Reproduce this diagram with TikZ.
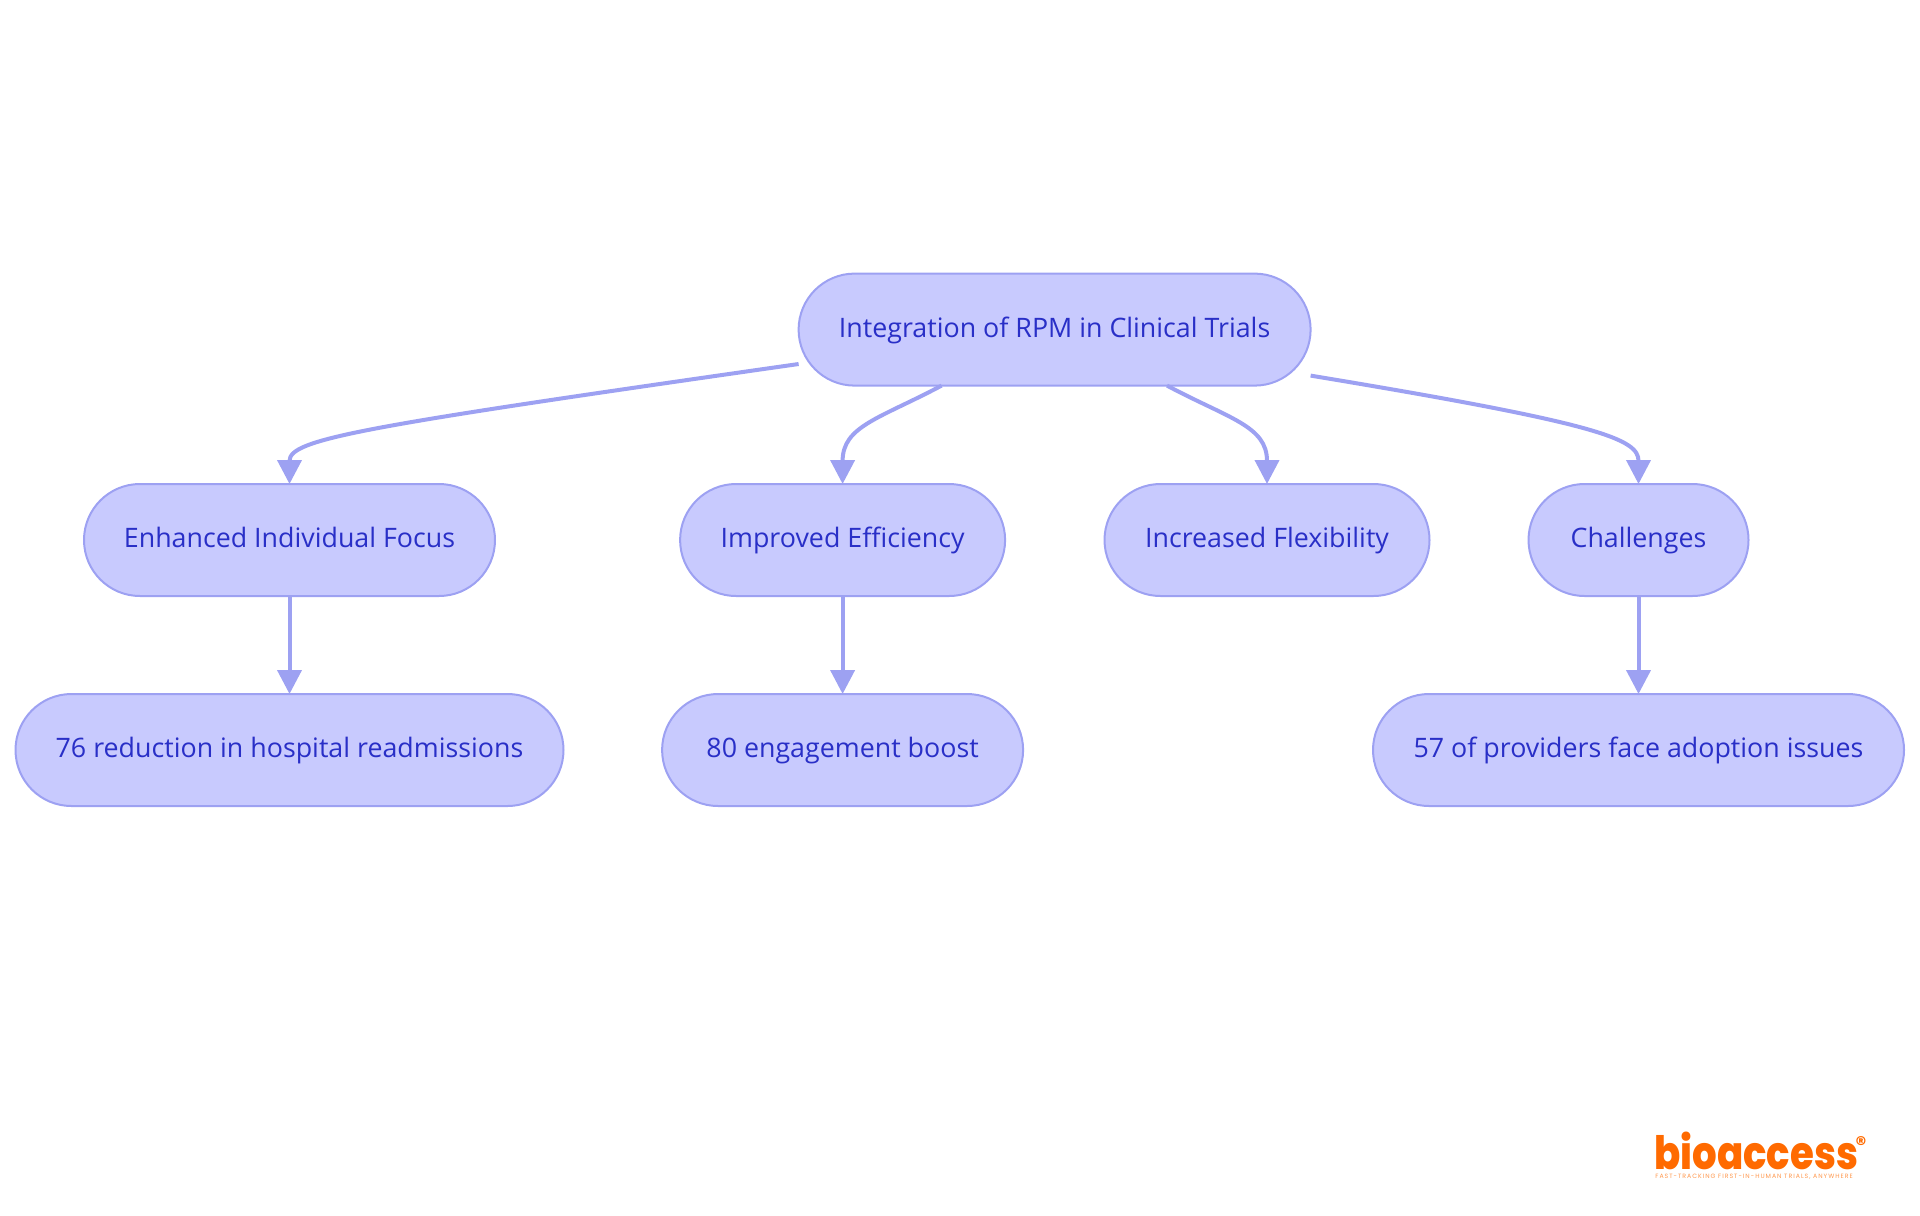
\documentclass[tikz,border=0pt]{standalone}
\usepackage{fontspec}
\setmainfont{Open Sans}
\newfontfamily\logofont{Poppins ExtraBold}
\newfontfamily\tagfont{Poppins}
\usetikzlibrary{arrows.meta}
\definecolor{pillfill}{RGB}{200,202,254}
\definecolor{pillline}{RGB}{157,161,242}
\definecolor{pilltext}{RGB}{41,47,199}
\definecolor{logoorange}{RGB}{255,106,0}
\tikzset{
	pill/.style={draw=pillline, fill=pillfill, line width=1pt, rounded corners=28pt, minimum height=56pt, inner sep=0pt, outer sep=0pt, text=pilltext, text height=8.8pt, text depth=1.2pt, font=\fontsize{13.4}{16}\selectfont},
	link/.style={draw=pillline, line width=2pt, -{Triangle[length=12pt,width=12pt]}}
}
\begin{document}
\begin{tikzpicture}[x=0.5pt, y=-0.5pt, line join=round]
	\useasboundingbox (0,0) rectangle (1920,1215);
	\foreach \n/\x/\y/\w/\t in {
		root/1054.6/329.6/256pt/Integration of RPM in Clinical Trials,
		focus/289.5/540/205.5pt/Enhanced Individual Focus,
		effic/842.6/540/162.5pt/Improved Efficiency,
		flex/1267/540/162.5pt/Increased Flexibility,
		chall/1638.5/540/110pt/Challenges,
		readm/289.5/750/274pt/76 reduction in hospital readmissions,
		boost/842.6/750/180.5pt/80 engagement boost,
		issue/1638.5/750/265.5pt/57 of providers face adoption issues}
		\node[pill, minimum width=\w] (\n) at (\x,\y) {\t};
	\path
	([yshift=-17.2pt]root.west) coordinate (rootA)
	([xshift=-56.5pt]root.south) coordinate (rootB)
	([xshift=56.2pt]root.south) coordinate (rootC)
	([yshift=-23pt]root.east) coordinate (rootD)
	;
	\draw[link] (rootA) .. controls +(-440,63) and +(0,-45) .. (focus.north);
	\draw[link] (rootB) .. controls +(-62,33) and +(0,-58) .. (effic.north);
	\draw[link] (rootC) .. controls +(62,33) and +(0,-58) .. (flex.north);
	\draw[link] (rootD) .. controls +(290,48) and +(0,-45) .. (chall.north);
	\draw[link] (focus) -- (readm);
	\draw[link] (effic) -- (boost);
	\draw[link] (chall) -- (issue);
	% logo
	\node[inner sep=0pt, anchor=base west, text=logoorange, font=\logofont\fontsize{23}{24}\selectfont] (logo) at (1654,1169) {\scalebox{0.84}[1]{bioaccess}};
	\node[inner sep=0pt, text=logoorange, font=\tagfont\bfseries\fontsize{10.5}{10.5}\selectfont] (logoreg) at (1861,1144) {®};
	\node[inner sep=0pt, anchor=west, text=logoorange!70, font=\tagfont\fontsize{3.1}{3.5}\selectfont] (logotag) at (1655,1177) {\addfontfeature{LetterSpace=16}FAST-TRACKING FIRST-IN-HUMAN TRIALS, ANYWHERE};
\end{tikzpicture}
\end{document}
